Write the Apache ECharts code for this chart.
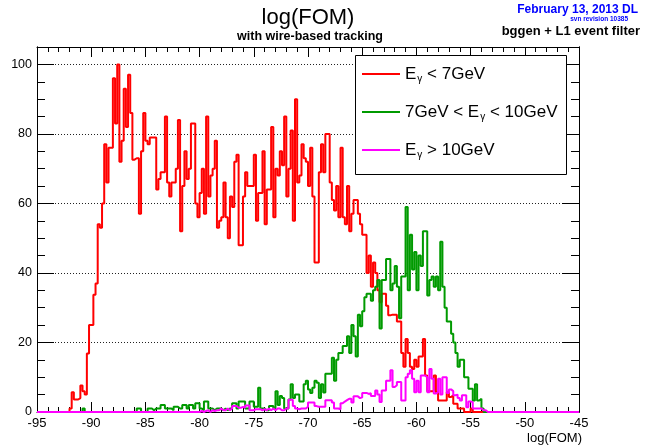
<!DOCTYPE html>
<html><head><meta charset="utf-8">
<script src="https://cdn.jsdelivr.net/npm/echarts@6/dist/echarts.min.js"></script>
<style>html,body{margin:0;padding:0;background:#fff}#c{width:646px;height:447px}</style>
</head><body><div id="c"></div>
<script>
// ---- histogram binning ----
const binLow = -95, binWidth = 0.2, nBins = 250;

// ---- series values (bin contents, starting at the given bin index) ----
const redStart = 15;
const redCounts = [
 1, 5.7, 3.6, 3.6, 4, 7.6, 6, 5, 16.8, 25,
 25, 33.7, 37, 54, 53, 60, 77, 66, 76, 76,
 96, 83, 100, 72, 78, 93, 82, 97, 86, 72.6,
 73, 73, 57, 75, 86, 78, 77, 79, 79, 79,
 64, 67, 69, 69, 85, 66, 62, 66, 66, 70,
 84, 52, 65, 75, 67, 70, 83, 83, 60, 56,
 63, 70, 57, 85, 62, 68, 70, 78, 53, 55,
 56, 66, 56, 50, 62, 59, 72, 74, 48, 48,
 62, 69, 65, 65, 65, 74, 55, 63, 63, 75,
 54, 64, 64, 82, 56, 70, 68, 75, 71, 85,
 62, 70, 81, 55, 90, 66, 68, 77, 73, 72,
 65, 76, 62, 43, 43, 69, 77, 69, 80, 80,
 66, 61, 58, 65, 56, 76, 56, 54, 65, 52,
 57, 61, 61, 57, 54, 51, 51, 40, 45, 36,
 43, 40, 35, 31.6, 34, 34, 30.6, 27.8, 28, 28,
 28, 26, 26, 17, 13, 21, 17, 13, 12.4, 15,
 13, 16, 16, 21, 10.5, 6, 6, 6, 10.5, 5.7,
 3.3, 3.3, 3.3, 3.3, 5.7, 4.3, 4.8, 2.4, 2.4, 1,
 1, 1, 0, 0, 0, 1
];
const greenStart = 21;
const greenCounts = [
 1, 0, 0, 0, 0, 0, 0, 0, 0, 0, 0, 0, 0, 0, 0, 0, 0, 0, 0, 0, 0, 0, 0, 0, 0,
 1, 1, 0, 0, 0, 1, 1, 0.5, 1, 1,
 1, 2, 2, 1, 1, 1, 0.5, 1.5, 1.5, 1,
 1, 2, 2, 1, 2, 2, 1, 2.5, 2.5, 1,
 0.5, 3, 3, 1, 1, 0.5, 1, 1, 1, 0.5,
 1, 0.5, 1, 1, 2.5, 2.5, 1, 3, 3, 3,
 1, 1, 3, 3, 1.5, 1.5, 7, 1, 1, 0.5,
 0.5, 1.7, 1.7, 1, 6, 2, 4.6, 4, 1, 1,
 3.6, 8, 4, 5, 5, 3, 3, 8, 9, 6.5,
 5.5, 7, 9, 8.4, 4, 8, 5.6, 11, 11, 11,
 15.6, 9, 15, 17, 17, 19, 19, 21.8, 17, 25,
 21.8, 16, 28, 24.7, 29, 33, 34, 34, 32, 35,
 36, 38, 24, 38, 38, 44, 44, 35, 37, 42,
 36, 27, 39, 39, 59, 35, 51, 41, 46, 35,
 45, 42, 52, 52, 33.5, 38, 39, 36, 39, 35,
 49, 36, 30, 26, 26, 22.5, 20, 17, 13, 15,
 15, 10, 10, 6.7, 6.7, 3.3, 8, 3.3, 3.8, 1, 0
];
const magentaStart = 75;
const magentaCounts = [
 0.3, 0, 0.3, 0.5, 0, 0.5, 0.3, 0.5, 0.5, 1,
 0.5, 0.5, 1, 0.5, 1, 1.7, 1.7, 1.2, 1.2, 1.5,
 1.2, 1.9, 1.9, 0.5, 0.5, 0.8, 0.8, 0.8, 0.5, 0.8,
 0.5, 1, 0.5, 1, 0.5, 1, 1, 0.5, 0.5, 1,
 1, 3.5, 3.5, 1.7, 1, 0.8, 1, 1, 1, 1.5,
 2.7, 2.7, 2.7, 1.7, 1.5, 1.5, 1.5, 1.5, 3.4, 3.4,
 3.4, 2.7, 1, 1, 0.8, 2.5, 3, 3.4, 3.8, 3.8,
 2.7, 4.5, 4.5, 4, 4.2, 5.5, 5.5, 5.2, 5.4, 4.6,
 4.6, 6.2, 5, 2.9, 6.2, 6.2, 9, 9, 12, 7.2,
 7.7, 8.6, 8.6, 3.3, 3.3, 10, 11, 12, 9.6, 5.7,
 9, 5.7, 10.5, 10.5, 10, 5.7, 12.4, 9.6, 5.3, 5.7,
 9.6, 5, 10, 10, 5.5, 6.5, 6, 4.8, 5, 4,
 3.3, 4.8, 4.8, 1.4, 3, 2.9, 1, 1, 1, 1, 0.5, 0.5
];

// ---- names / labels ----
const seriesNames = ['Eγ < 7GeV', '7GeV < Eγ < 10GeV', 'Eγ > 10GeV'];
const legendRich = [
  '{a|E}{s|γ}{a| < 7GeV}',
  '{a|7GeV < E}{s|γ}{a| < 10GeV}',
  '{a|E}{s|γ}{a| > 10GeV}'
];
const seriesColors = ['#ff0000', '#009a00', '#ff00ff'];
const xMin = -95, xMax = -45, xStep = 5;
const yMin = 0, yMax = 105, yStep = 20, yMinorStep = 5;
const titleText = 'log(FOM)';
const subTitleText = 'with wire-based tracking';
const dateText = 'February 13, 2013 DL';
const svnText = 'svn revision 10385';
const filterText = 'bggen + L1 event filter';
const xAxisTitle = 'log(FOM)';

function histPoints(start, counts) {
  const full = new Array(nBins).fill(0);
  counts.forEach((v, i) => { full[start + i] = v; });
  const pts = full.map((v, i) => [binLow + i * binWidth, v]);
  pts.push([binLow + nBins * binWidth, full[nBins - 1]]);
  return pts;
}
const seriesData = [
  histPoints(redStart, redCounts),
  histPoints(greenStart, greenCounts),
  histPoints(magentaStart, magentaCounts)
];

const FONT = "'Liberation Sans', Arial, Helvetica, sans-serif";
const chart = echarts.init(document.getElementById('c'), null, {renderer: 'canvas'});

const baseX = {
  type: 'value', min: xMin, max: xMax, interval: xStep,
  axisLine: {show: true, onZero: false, lineStyle: {color: '#000', width: 1}},
  axisTick: {show: true, inside: true, length: 10, lineStyle: {color: '#000', width: 1}},
  minorTick: {show: true, splitNumber: 5, length: 5, lineStyle: {color: '#000', width: 1}},
  splitLine: {show: false},
  minorSplitLine: {show: false}
};
const baseY = {
  type: 'value', min: yMin, max: yMax,
  axisLine: {show: true, onZero: false, lineStyle: {color: '#000', width: 1}},
  splitLine: {show: false}
};

const option = {
  animation: false,
  backgroundColor: '#fff',
  grid: {left: 37, right: 67, top: 47, bottom: 35, containLabel: false},
  xAxis: [
    Object.assign({}, baseX, {
      position: 'bottom',
      axisLabel: {show: true, color: '#000', fontSize: 13, fontFamily: FONT, margin: 5},
      name: xAxisTitle, nameLocation: 'end', nameGap: 3,
      nameTextStyle: {color: '#000', fontSize: 13, fontFamily: FONT, align: 'right', verticalAlign: 'top', padding: [20, 0, 0, 0]}
    }),
    Object.assign({}, baseX, {position: 'top', axisLabel: {show: false}})
  ],
  yAxis: [
    Object.assign({}, baseY, {
      position: 'left', interval: yStep,
      axisTick: {show: true, inside: true, length: 17, lineStyle: {color: '#000', width: 1}},
      axisLabel: {show: true, color: '#000', fontSize: 12.5, fontFamily: FONT, margin: 5, showMaxLabel: false},
      splitLine: {show: true, lineStyle: {color: '#222', type: [1, 2], width: 1}}
    }),
    Object.assign({}, baseY, {
      position: 'left', interval: yMinorStep,
      axisTick: {show: true, inside: true, length: 8, lineStyle: {color: '#000', width: 1}},
      axisLabel: {show: false}
    }),
    Object.assign({}, baseY, {
      position: 'right', interval: yStep,
      axisTick: {show: true, inside: true, length: 17, lineStyle: {color: '#000', width: 1}},
      axisLabel: {show: false}
    }),
    Object.assign({}, baseY, {
      position: 'right', interval: yMinorStep,
      axisTick: {show: true, inside: true, length: 8, lineStyle: {color: '#000', width: 1}},
      axisLabel: {show: false}
    })
  ],
  legend: {
    show: true, orient: 'vertical', left: 362, top: 64, padding: 0,
    itemWidth: 38, itemHeight: 2, itemGap: 18, icon: 'rect',
    selectedMode: false,
    data: seriesNames,
    formatter: function (name) { return legendRich[seriesNames.indexOf(name)]; },
    textStyle: {
      color: '#000', fontSize: 17, fontFamily: FONT,
      rich: {
        a: {fontSize: 17, fontFamily: FONT, color: '#000', lineHeight: 20},
        s: {fontSize: 10, fontFamily: FONT, color: '#000', lineHeight: 12, verticalAlign: 'top', padding: [10, 0, 0, 1]}
      }
    },
    z: 5
  },
  graphic: [
    {type: 'rect', z: 3, shape: {x: 355.5, y: 55.5, width: 211, height: 119},
     style: {fill: '#fff', stroke: '#000', lineWidth: 1}},
    {type: 'text', x: 308, y: 18, style: {text: titleText, fontSize: 22, fontFamily: FONT, fill: '#000', align: 'center', verticalAlign: 'middle', textAlign: 'center', textVerticalAlign: 'middle'}},
    {type: 'text', x: 310, y: 37, style: {text: subTitleText, fontSize: 12.5, fontWeight: 'bold', fontFamily: FONT, fill: '#000', align: 'center', verticalAlign: 'middle', textAlign: 'center', textVerticalAlign: 'middle'}},
    {type: 'text', x: 638, y: 10, style: {text: dateText, fontSize: 12, fontWeight: 'bold', fontFamily: FONT, fill: '#0000ff', align: 'right', verticalAlign: 'middle', textAlign: 'right', textVerticalAlign: 'middle'}},
    {type: 'text', x: 628, y: 19.5, style: {text: svnText, fontSize: 6.5, fontWeight: 'bold', fontFamily: FONT, fill: '#0000ff', align: 'right', verticalAlign: 'middle', textAlign: 'right', textVerticalAlign: 'middle'}},
    {type: 'text', x: 640, y: 31, style: {text: filterText, fontSize: 13, fontWeight: 'bold', fontFamily: FONT, fill: '#000', align: 'right', verticalAlign: 'middle', textAlign: 'right', textVerticalAlign: 'middle'}}
  ],
  series: seriesNames.map((n, k) => ({
    name: n, type: 'line', step: 'end', data: seriesData[k],
    xAxisIndex: 0, yAxisIndex: 0,
    symbol: 'none', showSymbol: false, clip: true,
    color: seriesColors[k],
    itemStyle: {color: seriesColors[k]},
    lineStyle: {color: seriesColors[k], width: 2},
    z: 2 + k
  }))
};
chart.setOption(option);
</script>
</body></html>
